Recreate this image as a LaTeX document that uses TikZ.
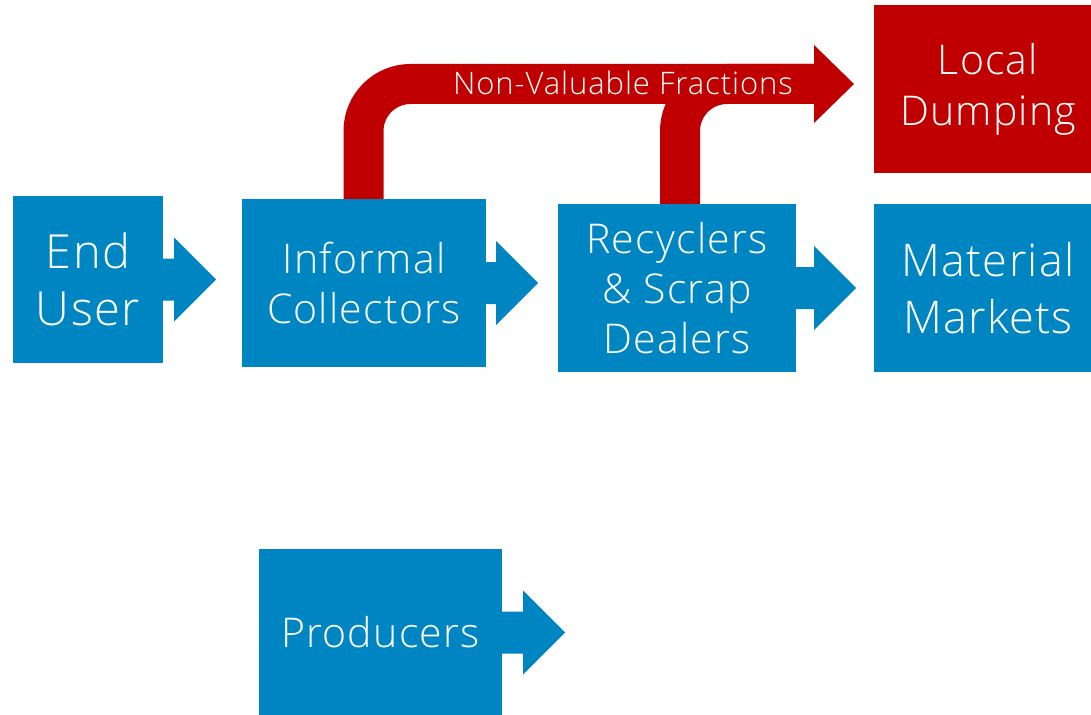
\documentclass[tikz,border=0pt]{standalone}
\usepackage{fontspec}
\setmainfont{Open Sans}[UprightFont=* Light, LetterSpace=3]
\definecolor{dblue}{HTML}{0085C3}
\definecolor{dred}{HTML}{C00000}
\tikzset{
  box/.style={fill=dblue, text=white, inner sep=0pt, align=center, anchor=center},
  redbox/.style={box, fill=dred},
  flow/.style={draw=dred, line width=40pt, rounded corners=47pt},
  flowlabel/.style={text=white, inner sep=0pt, anchor=base},
}
\newcommand{\blockarrow}[3]{%
  \fill[#3] (#1.east) ++(0,-21) -- ++(#2,0) -- ++(0,-21) -- ++(42,42) -- ++(-42,42) -- ++(0,-21) -- ++(-#2,0) -- cycle;}
\begin{document}
\begin{tikzpicture}[x=1pt,y=-1pt]
\clip (0,0) rectangle (1091,714);
\fill[white] (0,0) rectangle (1091,714);
% red flow
\coordinate (f1) at (363.5,84);
\coordinate (f2) at (680,84);
\coordinate (h) at (815,84);
\draw[flow] (363.5,210) -- (f1) -- (h);
\draw[flow] (680,215) -- (f2) -- (h);
\fill[dred] (h) ++(-1,-39) -- ++(40,39) -- ++(-40,39) -- cycle;
\node[flowlabel, font=\fontsize{31}{36}\selectfont] (nv) at (623,94.5) {Non-Valuable Fractions};
% boxes
\node[box, minimum width=150pt, minimum height=167pt, font=\fontsize{47}{57}\selectfont] (eu) at (88,279.5) {End\\User};
\node[box, minimum width=244pt, minimum height=168pt, font=\fontsize{41}{50}\selectfont] (ic) at (364,283) {Informal\\Collectors};
\node[box, minimum width=238pt, minimum height=168pt, font=\fontsize{41}{50}\selectfont] (rs) at (677,288) {Recyclers\\\&~Scrap\\Dealers};
\node[redbox, minimum width=228pt, minimum height=168pt, font=\fontsize{41}{51}\selectfont] (ld) at (988,89) {Local\\Dumping};
\node[box, minimum width=228pt, minimum height=168pt, font=\fontsize{45}{57}\selectfont] (mm) at (988,288) {Material\\Markets};
\node[box, minimum width=243pt, minimum height=167pt, font=\fontsize{41}{50}\selectfont] (pr) at (380.5,632.5) {Producers};
% block arrows
\blockarrow{eu}{11}{dblue}
\blockarrow{ic}{10}{dblue}
\blockarrow{rs}{18}{dblue}
\blockarrow{pr}{21}{dblue}
\end{tikzpicture}
\end{document}
